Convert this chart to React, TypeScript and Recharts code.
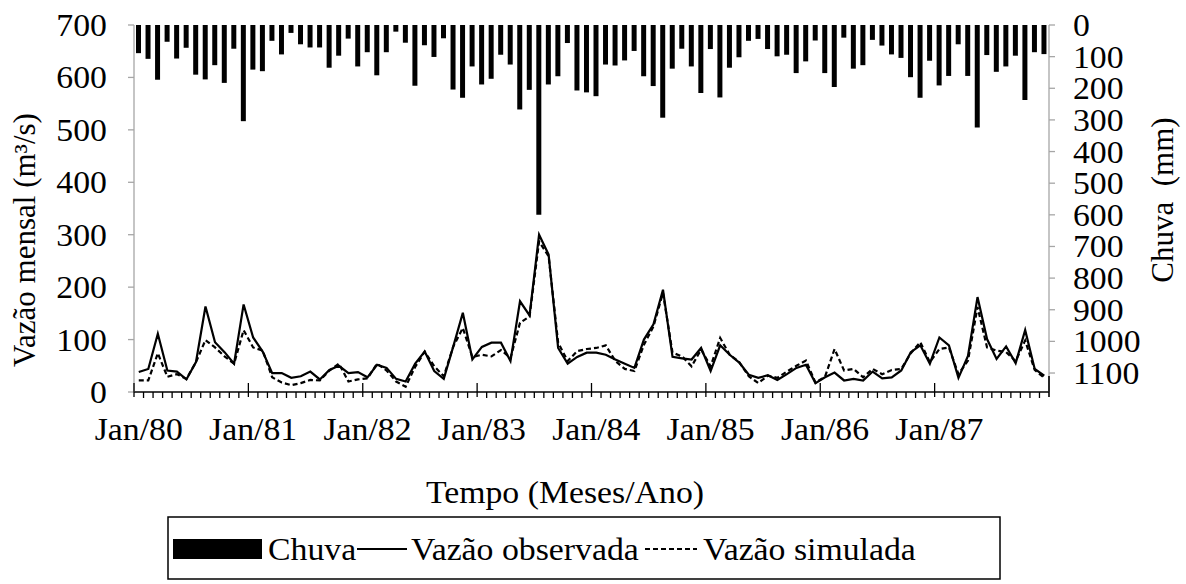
import React from 'react';
import { ComposedChart, Bar, Line, XAxis, YAxis, Label } from 'recharts';

const monthNames = ['Jan', 'Fev', 'Mar', 'Abr', 'Mai', 'Jun', 'Jul', 'Ago', 'Set', 'Out', 'Nov', 'Dez'];
const years = ['80', '81', '82', '83', '84', '85', '86', '87'];
const months: string[] = years.flatMap((y) => monthNames.map((m) => `${m}/${y}`));

const chuva = [
  89, 107, 173, 53, 106, 72, 157, 172, 127, 183, 75, 304, 141, 146, 50, 93, 25, 61, 71, 71,
  135, 97, 43, 131, 86, 159, 86, 21, 56, 192, 64,
  101, 42, 204, 230, 131, 188, 170, 94, 125, 267, 205, 600, 188, 162, 57, 207, 213, 225, 125, 128,
  112, 82, 162, 193, 293, 138, 75, 131, 215, 76, 229, 135, 102, 50,
  44, 76, 99, 94, 152, 115, 49, 152, 196, 40, 138, 127, 47, 65, 93, 104, 165, 230, 113, 191,
  161, 61, 161, 324, 95, 148, 131, 97, 237, 86, 92,
];

const vazaoObservada = [
  38, 44, 111, 41, 39, 24, 57, 163, 95, 76, 54, 167, 104, 77, 36, 36, 27, 30, 39, 24,
  42, 50, 36, 38, 28, 52, 46, 25, 20, 54, 77,
  40, 25, 87, 151, 62, 86, 94, 94, 59, 173, 146, 300, 262, 84, 54, 67, 75, 75, 71, 62,
  54, 46, 100, 129, 195, 67, 64, 62, 84, 40, 89, 71, 56, 33,
  27, 32, 23, 34, 46, 52, 17, 28, 37, 22, 25, 22, 39, 26, 28, 41, 76, 89, 54, 104,
  89, 27, 69, 181, 101, 63, 87, 55, 118, 44, 31,
];

const vazaoSimulada = [
  22, 22, 74, 29, 34, 25, 57, 99, 85, 68, 54, 118, 85, 79, 28, 18, 13, 17, 23, 22,
  41, 54, 20, 24, 26, 54, 41, 20, 10, 48, 77,
  49, 30, 87, 122, 67, 71, 68, 80, 65, 132, 144, 287, 259, 94, 59, 78, 82, 84, 89, 59,
  44, 40, 90, 125, 189, 75, 68, 49, 81, 49, 103, 71, 57, 30,
  17, 31, 27, 39, 50, 60, 18, 29, 82, 41, 44, 28, 44, 34, 42, 44, 74, 95, 57, 82,
  85, 34, 60, 162, 85, 79, 76, 59, 98, 42, 27,
];

const leftTicks = [0, 100, 200, 300, 400, 500, 600, 700];
const rightTicks = [0, 100, 200, 300, 400, 500, 600, 700, 800, 900, 1000, 1100];

const data = months.map((m, i) => ({
  mes: m,
  chuva: chuva[i],
  obs: vazaoObservada[i],
  sim: vazaoSimulada[i],
}));

const FONT = '"Liberation Serif", "Times New Roman", serif';
const FS = 31;
const K = 1.09; // horizontal stretch of the reference's text
const W = 1186;
const H = 584;
const PLOT_LEFT = 134;
const PLOT_RIGHT = 1049;
const BW = (PLOT_RIGHT - PLOT_LEFT) / months.length;

const stretch = (x: number) => `matrix(${K},0,0,1,${x * (1 - K)},0)`;

const SText = ({ x, y, anchor = 'start', dy, children, pre }: any) => (
  <text
    x={x}
    y={y}
    dy={dy}
    textAnchor={anchor}
    transform={stretch(x)}
    fontFamily={FONT}
    fontSize={FS}
    fill="#000"
    style={pre ? { whiteSpace: 'pre' } : undefined}
  >
    {children}
  </text>
);

const XTick = (props: any) => {
  const { x, y, payload, index } = props;
  const bx = x - BW / 2;
  const major = index % 12 === 0;
  const last = index === months.length - 1;
  return (
    <g>
      {major ? (
        <line x1={bx} x2={bx} y1={y - 9} y2={y + 5} stroke="#000" strokeWidth={1.3} />
      ) : (
        <line x1={bx} x2={bx} y1={y} y2={y + 6} stroke="#000" strokeWidth={1.3} />
      )}
      {last && (
        <line x1={x + BW / 2} x2={x + BW / 2} y1={y - 16} y2={y + 5} stroke="#000" strokeWidth={1.6} />
      )}
      {major && (
        <SText x={x} y={y + 48} anchor="middle">
          {payload.value}
        </SText>
      )}
    </g>
  );
};

const LeftYTick = (props: any) => {
  const { x, y, payload } = props;
  return (
    <SText x={x} y={y} dy="0.355em" anchor="end">
      {payload.value}
    </SText>
  );
};

const RightYTick = (props: any) => {
  const { x, y, payload } = props;
  return (
    <SText x={x} y={y} dy="0.355em" anchor="start">
      {payload.value}
    </SText>
  );
};

const LeftTitle = () => (
  <text
    x={24}
    y={240}
    transform="rotate(-90 24 240)"
    textAnchor="middle"
    dominantBaseline="central"
    fontFamily={FONT}
    fontSize={FS}
    fill="#000"
  >
    Vazão mensal (m³/s)
  </text>
);

const RightTitle = () => (
  <text
    x={1162}
    y={200}
    transform="rotate(-90 1162 200)"
    textAnchor="middle"
    dominantBaseline="central"
    fontFamily={FONT}
    fontSize={FS}
    fill="#000"
    style={{ whiteSpace: 'pre' }}
  >
    {'Chuva  (mm)'}
  </text>
);

const XTitle = () => (
  <SText x={565} y={503} anchor="middle">
    Tempo (Meses/Ano)
  </SText>
);

export default function App() {
  return (
    <div style={{ position: 'absolute', left: 0, top: 0, width: W, height: H, background: '#fff' }}>
      <ComposedChart
        width={W}
        height={H}
        data={data}
        margin={{ top: 25, right: 0, left: 0, bottom: 152 }}
        barCategoryGap="50%"
      >
        <XAxis
          dataKey="mes"
          xAxisId="x"
          height={40}
          interval={0}
          tickSize={0}
          tickMargin={0}
          tickLine={false}
          axisLine={{ stroke: '#000', strokeWidth: 1.3 }}
          tick={<XTick />}
        >
          <Label content={<XTitle />} />
        </XAxis>
        <YAxis
          yAxisId="left"
          orientation="left"
          width={PLOT_LEFT}
          domain={[0, 700]}
          ticks={leftTicks}
          interval={0}
          tickSize={6}
          tickMargin={21}
          axisLine={{ stroke: '#a6a6a6', strokeWidth: 1.3 }}
          tickLine={{ stroke: '#a6a6a6', strokeWidth: 1.3 }}
          tick={<LeftYTick />}
        >
          <Label content={<LeftTitle />} />
        </YAxis>
        <YAxis
          yAxisId="right"
          orientation="right"
          width={W - PLOT_RIGHT}
          domain={[0, 1160]}
          reversed
          ticks={rightTicks}
          interval={0}
          tickSize={6}
          tickMargin={18}
          axisLine={{ stroke: '#a6a6a6', strokeWidth: 1.3 }}
          tickLine={{ stroke: '#a6a6a6', strokeWidth: 1.3 }}
          tick={<RightYTick />}
        >
          <Label content={<RightTitle />} />
        </YAxis>
        <Bar
          dataKey="chuva"
          xAxisId="x"
          yAxisId="right"
          fill="#000"
          barSize={5}
          isAnimationActive={false}
        />
        <Line
          dataKey="obs"
          xAxisId="x"
          yAxisId="left"
          type="linear"
          stroke="#000"
          strokeWidth={2.2}
          dot={false}
          isAnimationActive={false}
        />
        <Line
          dataKey="sim"
          xAxisId="x"
          yAxisId="left"
          type="linear"
          stroke="#000"
          strokeWidth={2.2}
          strokeDasharray="5 3"
          dot={false}
          isAnimationActive={false}
        />
      </ComposedChart>
      <svg
        width={W}
        height={H}
        style={{ position: 'absolute', left: 0, top: 0, pointerEvents: 'none' }}
      >
        <rect x={168} y={517} width={832} height={62} fill="none" stroke="#000" strokeWidth={1.5} />
        <rect x={173} y={539} width={89} height={20} fill="#000" />
        <SText x={268} y={560}>Chuva</SText>
        <line x1={357} x2={407} y1={549} y2={549} stroke="#000" strokeWidth={2} />
        <SText x={411} y={560}>Vazão observada</SText>
        <line x1={645} x2={697} y1={549} y2={549} stroke="#000" strokeWidth={2.2} strokeDasharray="5 3" />
        <SText x={703} y={560}>Vazão simulada</SText>
      </svg>
    </div>
  );
}
